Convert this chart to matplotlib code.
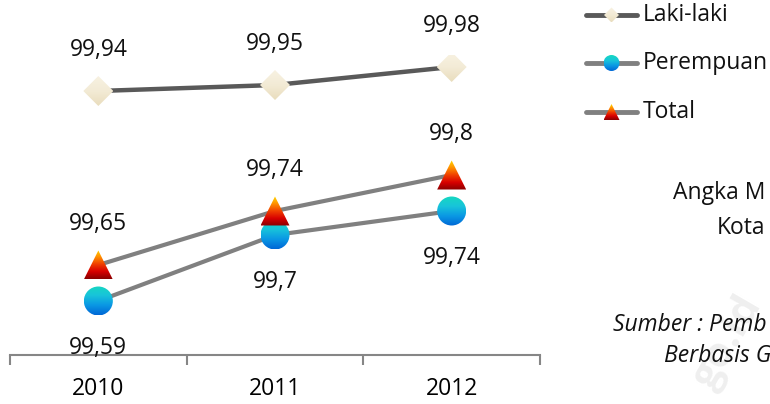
import matplotlib
matplotlib.use("Agg")
import numpy as np
import matplotlib.pyplot as plt
from matplotlib.colors import LinearSegmentedColormap
from matplotlib.patches import Polygon, Ellipse

years = ["2010", "2011", "2012"]
laki = [99.94, 99.95, 99.98]
perempuan = [99.59, 99.70, 99.74]
total = [99.65, 99.74, 99.80]
series_names = ["Laki-laki", "Perempuan", "Total"]

plt.rcParams['font.family'] = ['Open Sans', 'DejaVu Sans']
FS = 16.5
W, H = 770, 404

fig = plt.figure(figsize=(W/100, H/100), dpi=100)
AX_L, AX_B, AX_W, AX_H = 10, H-355, 530, 300
ax = fig.add_axes([AX_L/W, AX_B/H, AX_W/W, AX_H/H])
XLIM = (-0.5, 2.5)
YLIM = (99.5, 100.0)
sx = (XLIM[1]-XLIM[0]) / AX_W   # data units per pixel
sy = (YLIM[1]-YLIM[0]) / AX_H

# overlay axes in pixel coordinates (for legend / side text)
lax = fig.add_axes([0, 0, 1, 1], zorder=5)
lax.set_xlim(0, W); lax.set_ylim(0, H); lax.axis('off')
lax.patch.set_alpha(0)

cm_diamond = LinearSegmentedColormap.from_list('d', ['#E9DDBD', '#F3EBD6', '#F8F2E2'])
cm_circle = LinearSegmentedColormap.from_list('c', ['#0068D6', '#0A98E4', '#18C4DA', '#16D8C0'])
cm_tri = LinearSegmentedColormap.from_list('t', ['#8A0000', '#D80000', '#F04000', '#FF9000', '#FFD800'])
grad = np.linspace(0, 1, 64).reshape(-1, 1)

def gmarker(axis, cx, cy, shape, size_px, cmap, ux, uy, z=4):
    hw = size_px / 2 * ux
    hh = size_px / 2 * uy
    if shape == 'D':
        patch = Polygon([(cx, cy+hh), (cx+hw, cy), (cx, cy-hh), (cx-hw, cy)], closed=True,
                        transform=axis.transData, facecolor='none', edgecolor='none')
    elif shape == 'o':
        patch = Ellipse((cx, cy), 2*hw, 2*hh, transform=axis.transData,
                        facecolor='none', edgecolor='none')
    else:
        patch = Polygon([(cx, cy+hh), (cx+hw, cy-hh), (cx-hw, cy-hh)], closed=True,
                        transform=axis.transData, facecolor='none', edgecolor='none')
    axis.add_patch(patch)
    im = axis.imshow(grad, cmap=cmap, origin='lower', aspect='auto', interpolation='bilinear',
                     extent=(cx-hw, cx+hw, cy-hh, cy+hh), zorder=z)
    im.set_clip_path(patch)

x = list(range(len(years)))
ax.plot(x, laki, color='#595959', lw=3.2, zorder=2)
ax.plot(x, perempuan, color='#808080', lw=3.0, zorder=2)
ax.plot(x, total, color='#808080', lw=3.0, zorder=2)
for xi, v in zip(x, laki):
    gmarker(ax, xi, v, 'D', 30, cm_diamond, sx, sy)
for xi, v in zip(x, perempuan):
    gmarker(ax, xi, v, 'o', 29, cm_circle, sx, sy)
for xi, v in zip(x, total):
    gmarker(ax, xi, v, '^', 29, cm_tri, sx, sy, z=5)

def fmt(v):
    s = ('%.2f' % v).rstrip('0').rstrip('.')
    return s.replace('.', ',')

for xi, v in zip(x, laki):
    ax.annotate(fmt(v), (xi, v), xytext=(0, 25), textcoords='offset points',
                ha='center', va='baseline', fontsize=FS, color='#111111')
for xi, v in zip(x, perempuan):
    ax.annotate(fmt(v), (xi, v), xytext=(0, -38), textcoords='offset points',
                ha='center', va='baseline', fontsize=FS, color='#111111')
for xi, v in zip(x, total):
    ax.annotate(fmt(v), (xi, v), xytext=(0, 25), textcoords='offset points',
                ha='center', va='baseline', fontsize=FS, color='#111111')

ax.set_xlim(*XLIM)
ax.set_ylim(*YLIM)
for s in ['left', 'right', 'top']:
    ax.spines[s].set_visible(False)
ax.spines['bottom'].set_color('#868686')
ax.spines['bottom'].set_linewidth(1.5)
ax.set_yticks([])
ax.set_xticks([-0.5, 0.5, 1.5, 2.5])
ax.set_xticklabels([])
ax.tick_params(axis='x', which='major', length=7, width=1.5, color='#868686', direction='out')
ax.set_xticks(x, minor=True)
ax.set_xticklabels(years, minor=True, fontsize=FS)
ax.tick_params(axis='x', which='minor', length=0, pad=16)

# legend (pixel coordinates)
leg_rows = [H-15, H-63, H-112]
leg_specs = [('#595959', 'D', 15, cm_diamond), ('#808080', 'o', 16, cm_circle),
             ('#808080', '^', 16, cm_tri)]
for name, yy, (col, shp, sz, cmap) in zip(series_names, leg_rows, leg_specs):
    lax.plot([586, 637], [yy, yy], color=col, lw=3.5, solid_capstyle='round', zorder=3)
    gmarker(lax, 611.5, yy, shp, sz, cmap, 1, 1, z=4)
    lax.text(643, yy, name, fontsize=FS, ha='left', va='center', color='#111111')

# watermark
lax.text(728, 62, "go.id", fontsize=30, fontweight='bold', color='#EFEFEF',
         rotation=60, ha='center', va='center', zorder=0)

lax.text(673, H-193, "Angka M", fontsize=FS, ha='left', va='center', color='#111111', zorder=6)
lax.text(717, H-228, "Kota", fontsize=FS, ha='left', va='center', color='#111111', zorder=6)
lax.text(613, H-325, "Sumber : Pemb", fontsize=FS, ha='left', va='center',
         style='italic', color='#111111', zorder=6)
lax.text(664, H-356, "Berbasis G", fontsize=FS, ha='left', va='center',
         style='italic', color='#111111', zorder=6)
lax.set_xlim(0, W); lax.set_ylim(0, H)

fig.savefig("out.png", dpi=100)
